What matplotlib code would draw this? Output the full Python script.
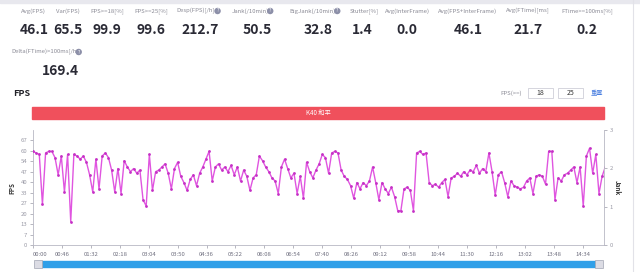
import numpy as np
import matplotlib
matplotlib.use("Agg")
import matplotlib.pyplot as plt
from matplotlib.patches import Rectangle

plt.rcParams['font.family'] = ['Noto Sans CJK SC', 'DejaVu Sans']

# ---- data ----
metric_labels = ["Avg(FPS)", "Var(FPS)", "FPS>=18[%]", "FPS>=25[%]", "Desp(FPS)[/h]",
                 "Jank(/10min)", "BigJank(/10min)", "Stutter[%]", "Avg(InterFrame)",
                 "Avg(FPS+InterFrame)", "Avg(FTime)[ms]", "FTime>=100ms[%]"]
metric_values = ["46.1", "65.5", "99.9", "99.6", "212.7", "50.5", "32.8", "1.4", "0.0",
                 "46.1", "21.7", "0.2"]
metric_help = [False, False, False, False, True, True, True, False, False, False, False, False]
metric2_label = "Delta(FTime)>100ms[/h]"
metric2_value = "169.4"

sample_step_s = 5
fps_values = [60, 59, 58, 26, 59, 60, 60, 56, 45, 57,
              34, 58, 15, 58, 57, 55, 57, 53, 45, 34,
              55, 36, 57, 59, 56, 48, 34, 49, 33, 54,
              50, 47, 49, 46, 48, 29, 25, 58, 35, 47,
              48, 50, 52, 46, 36, 49, 53, 44, 40, 35,
              42, 45, 38, 46, 50, 55, 60, 41, 50, 52,
              48, 50, 47, 51, 45, 50, 41, 48, 44, 35,
              43, 45, 57, 54, 50, 47, 43, 41, 33, 50,
              55, 49, 43, 46, 33, 44, 30, 53, 47, 43,
              48, 52, 58, 56, 46, 59, 60, 59, 48, 44,
              42, 38, 30, 40, 36, 40, 38, 41, 50, 40,
              29, 40, 36, 33, 37, 31, 22, 22, 36, 37,
              35, 22, 59, 60, 58, 59, 40, 38, 39, 37,
              40, 42, 31, 43, 44, 46, 44, 47, 45, 48,
              47, 51, 46, 49, 47, 59, 47, 32, 45, 47,
              40, 31, 41, 38, 37, 36, 37, 41, 43, 33,
              44, 45, 44, 39, 60, 60, 29, 43, 41, 45,
              46, 48, 50, 40, 50, 25, 57, 62, 46, 58,
              33, 44, 50]
times_s = np.arange(len(fps_values)) * sample_step_s

yticks_left = [0, 6.7, 13.4, 20.1, 26.8, 33.5, 40.2, 46.9, 53.6, 60.3, 67]
ytick_labels_left = ["0", "7", "13", "20", "27", "33", "40", "47", "54", "60", "67"]
yticks_right = [0, 1, 2, 3]
xtick_step_s = 46
xtick_count = 20
xtick_pos = [k * xtick_step_s for k in range(xtick_count)]
xtick_labels = ["%02d:%02d" % (t // 60, t % 60) for t in xtick_pos]

W, H = 640, 272
fig = plt.figure(figsize=(W / 100, H / 100), dpi=100)
fig.patch.set_facecolor("white")

def fx(px):
    return px / W

def fy(py):
    return 1 - py / H

# top gray strip
fig.patches.append(Rectangle((0, fy(3)), 1, 3 / H, transform=fig.transFigure,
                             color="#e8e8ee", zorder=0))
# right border line
fig.add_artist(plt.Line2D([fx(633), fx(633)], [0, 1], transform=fig.transFigure,
                          color="#e2e2e8", lw=0.8))

label_x = [33, 68, 107, 151, 196, 250, 313, 364, 407, 468, 528, 587]
value_x = [34, 68, 107, 151, 200, 257, 318, 362, 407, 468, 528, 587]
for lab, val, hx, lx, vx in zip(metric_labels, metric_values, metric_help, label_x, value_x):
    t = fig.text(fx(lx), fy(11), lab, ha="center", va="center", fontsize=4.3, color="#8a8a95")
    if hx:
        fig.text(fx(lx + len(lab) * 1.35 + 4), fy(11), "?", ha="center", va="center",
                 fontsize=3.5, color="white",
                 bbox=dict(boxstyle="circle,pad=0.15", fc="#8c8fa8", ec="none"))
    fig.text(fx(vx), fy(30), val, ha="center", va="center", fontsize=10,
             fontweight="bold", color="#2a2a35")
fig.text(fx(45), fy(52), metric2_label, ha="center", va="center", fontsize=4.3, color="#8a8a95")
fig.text(fx(45 + len(metric2_label) * 1.35 + 4), fy(52), "?", ha="center", va="center",
         fontsize=3.5, color="white",
         bbox=dict(boxstyle="circle,pad=0.15", fc="#8c8fa8", ec="none"))
fig.text(fx(60), fy(71), metric2_value, ha="center", va="center", fontsize=10,
         fontweight="bold", color="#2a2a35")

# FPS section title
fig.text(fx(13), fy(94), "FPS", ha="left", va="center", fontsize=6.5, fontweight="bold",
         color="#222228")
fig.text(fx(522), fy(93), "FPS(>=)", ha="right", va="center", fontsize=4.3, color="#8a8a95")
for bx, txt in [(528, "18"), (558, "25")]:
    fig.patches.append(Rectangle((fx(bx), fy(98)), 25 / W, 10 / H, transform=fig.transFigure,
                                 fc="white", ec="#cfcfd8", lw=0.6))
    fig.text(fx(bx + 12.5), fy(93), txt, ha="center", va="center", fontsize=5, color="#333")
fig.text(fx(597), fy(93), "重置", ha="center", va="center", fontsize=4.5, color="#4a7fe0")

# red bar
fig.patches.append(Rectangle((fx(32), fy(119)), (604 - 32) / W, 12 / H,
                             transform=fig.transFigure, color="#f0505c", zorder=1))
fig.text(fx(318), fy(113), "K40 和平", ha="center", va="center", fontsize=4.5, color="white")

# main axes
ax = fig.add_axes([fx(33), 27 / H, (604 - 33) / W, 115 / H])
ax.set_facecolor("white")
ax.plot(times_s, fps_values, color="#e055e0", lw=1.0, zorder=3)
ax.scatter(times_s, fps_values, s=4, color="#c530c5", zorder=4, linewidths=0)
ax.set_xlim(0, 908)
ax.set_ylim(0, 73.7)
ax.set_yticks(yticks_left)
ax.set_yticklabels(ytick_labels_left)
ax.set_xticks(xtick_pos)
ax.set_xticklabels(xtick_labels)
lbls = ax.get_xticklabels()
lbls[0].set_horizontalalignment("left")
for sp in ["top", "right"]:
    ax.spines[sp].set_visible(False)
for sp in ["left", "bottom"]:
    ax.spines[sp].set_color("#b8b8c4")
    ax.spines[sp].set_linewidth(0.6)
ax.tick_params(axis="both", labelsize=4.3, colors="#9a9aa6", length=2, width=0.5, pad=2)
ax.tick_params(axis="x", labelcolor="#707080", pad=3)
ax.set_ylabel("FPS", fontsize=4.5, color="#333", labelpad=4, fontweight="bold")

ax2 = ax.twinx()
ax2.set_ylim(0, 3)
ax2.set_yticks(yticks_right)
for sp in ["top", "left", "bottom"]:
    ax2.spines[sp].set_visible(False)
ax2.spines["right"].set_color("#b8b8c4")
ax2.spines["right"].set_linewidth(0.6)
ax2.tick_params(axis="y", labelsize=4.3, colors="#9a9aa6", length=2, width=0.5, pad=2)
ax2.set_ylabel("Jank", fontsize=4.5, color="#333", rotation=270, labelpad=6, fontweight="bold")

# slider
fig.patches.append(Rectangle((fx(35), fy(267)), (602 - 35) / W, 6 / H,
                             transform=fig.transFigure, color="#2f9fe8", zorder=1))
for hxp in [34, 595]:
    fig.patches.append(Rectangle((fx(hxp), fy(268)), 8 / W, 8 / H, transform=fig.transFigure,
                                 fc="#dcdce4", ec="#a8a8b4", lw=0.5, zorder=2))

fig.savefig("out.png", dpi=100)
